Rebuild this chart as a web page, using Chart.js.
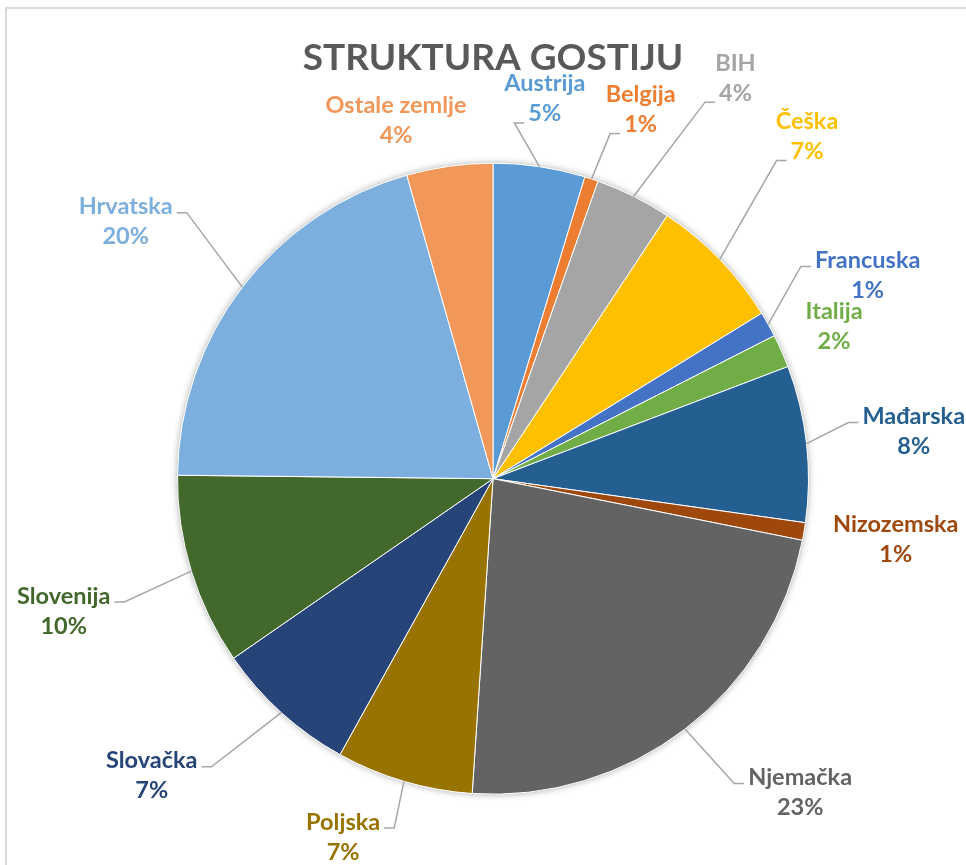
<!DOCTYPE html>
<html lang="hr">
<head>
<meta charset="UTF-8">
<title>Struktura gostiju</title>
<script src="https://cdn.jsdelivr.net/npm/chart.js"></script>
<style>
    body { margin: 0; background: #fff; overflow: hidden; }
    .okvir { position: relative; width: 966px; height: 865px; }
    .rub { position: absolute; left: 5px; top: 7px; width: 1000px; height: 900px; border: 2px solid #d9d9d9; }
    canvas { position: absolute; left: 0; top: 0; }
</style>
</head>
<body>
<div class="okvir">
    <div class="rub"></div>
    <canvas id="grafikon" width="966" height="865"></canvas>
</div>

<script>
    // podaci (udio gostiju, %)
    const zemlje = ['Austrija', 'Belgija', 'BIH', 'Češka', 'Francuska', 'Italija', 'Mađarska',
        'Nizozemska', 'Njemačka', 'Poljska', 'Slovačka', 'Slovenija', 'Hrvatska', 'Ostale zemlje'];
    const udjeli = [4.7, 0.7, 3.9, 6.9, 1.3, 1.7, 8.0, 0.9, 22.9, 7.0, 7.3, 9.8, 20.4, 4.4];
    const postoci = ['5%', '1%', '4%', '7%', '1%', '2%', '8%', '1%', '23%', '7%', '7%', '10%', '20%', '4%'];

    const boje = ['#5B9BD5', '#ED7D31', '#A5A5A5', '#FFC000', '#4472C4', '#70AD47', '#255E91',
        '#9E480E', '#636363', '#997300', '#264478', '#43682B', '#7CAFDD', '#F1975A'];

    // raspored oznaka: udaljenost (u polumjerima) i pomak kuta (stupnjevi)
    const oznakaUdaljenost = [1.215, 1.26, 1.484, 1.472, 1.351, 1.184, 1.342, 1.291, 1.392, 1.231, 1.434, 1.424, 1.421, 1.177];
    const oznakaPomak = [-0.7, 3.6, 4.7, -3.4, 0.8, -0.2, 0, -1.1, -6.9, 6.3, 6.8, -0.1, -2.4, -7.2];
    const linijaVodilica = [true, true, true, true, true, false, true, false, true, true, true, true, true, false];

    const FONT_OZNAKA = 'bold 23.5px Lato';

    const sjenaPlugin = {
        id: 'sjena',
        beforeDatasetsDraw(chart) {
            const arc = chart.getDatasetMeta(0).data[0];
            const ctx = chart.ctx;
            ctx.save();
            ctx.shadowColor = 'rgba(0,0,0,0.35)';
            ctx.shadowBlur = 7;
            ctx.fillStyle = '#fff';
            ctx.beginPath();
            ctx.arc(arc.x, arc.y, arc.outerRadius, 0, Math.PI * 2);
            ctx.fill();
            ctx.restore();
        }
    };

    const oznakePlugin = {
        id: 'oznake',
        afterDatasetsDraw(chart) {
            const ctx = chart.ctx;
            const meta = chart.getDatasetMeta(0);
            ctx.save();
            ctx.font = FONT_OZNAKA;
            ctx.textAlign = 'center';
            ctx.textBaseline = 'middle';

            meta.data.forEach(function (arc, i) {
                const sred = (arc.startAngle + arc.endAngle) / 2;
                const r = arc.outerRadius;
                // tocka na rubu kruga
                const px = arc.x + Math.cos(sred) * r;
                const py = arc.y + Math.sin(sred) * r;
                // sredina oznake
                const kut = sred + oznakaPomak[i] * Math.PI / 180;
                const d = r * oznakaUdaljenost[i];
                const lx = arc.x + Math.cos(kut) * d;
                const ly = arc.y + Math.sin(kut) * d;

                const wIme = ctx.measureText(zemlje[i]).width;
                const wPost = ctx.measureText(postoci[i]).width;

                if (linijaVodilica[i]) {
                    const desno = lx > arc.x;
                    // kut od vrha, u smjeru kazaljke
                    const odVrha = sred + Math.PI / 2;
                    const gore = Math.cos(odVrha) > 0 && Math.abs(Math.sin(odVrha)) < 0.76;
                    let tx, ty;
                    if (gore) {
                        tx = desno ? lx - wPost / 2 - 4 : lx + wPost / 2 + 4;
                        ty = ly + 24;
                    } else {
                        const w = Math.max(wIme, wPost);
                        tx = desno ? lx - w / 2 - 4 : lx + w / 2 + 4;
                        ty = ly - 9;
                    }
                    const ex = desno ? tx - 10 : tx + 10;
                    ctx.strokeStyle = '#a6a6a6';
                    ctx.lineWidth = 1.5;
                    ctx.beginPath();
                    ctx.moveTo(px, py);
                    ctx.lineTo(ex, ty);
                    ctx.lineTo(tx, ty);
                    ctx.stroke();
                }

                ctx.fillStyle = boje[i];
                ctx.fillText(zemlje[i], lx, ly - 15);
                ctx.fillText(postoci[i], lx, ly + 15);
            });
            ctx.restore();
        }
    };

    const config = {
        type: 'pie',
        data: {
            labels: zemlje,
            datasets: [{
                data: udjeli,
                backgroundColor: boje,
                borderColor: '#ffffff',
                borderWidth: 1
            }]
        },
        options: {
            responsive: false,
            animation: false,
            layout: {
                padding: { top: 36, bottom: 70, left: 177, right: 157 }
            },
            plugins: {
                legend: { display: false },
                tooltip: { enabled: false },
                title: {
                    display: true,
                    text: 'STRUKTURA GOSTIJU',
                    color: '#595959',
                    font: { family: 'Lato', size: 37, weight: 'bold', lineHeight: 1.2 },
                    padding: { top: 0, bottom: 82 }
                }
            }
        },
        plugins: [sjenaPlugin, oznakePlugin]
    };

    new Chart(document.getElementById('grafikon'), config);
</script>
</body>
</html>
